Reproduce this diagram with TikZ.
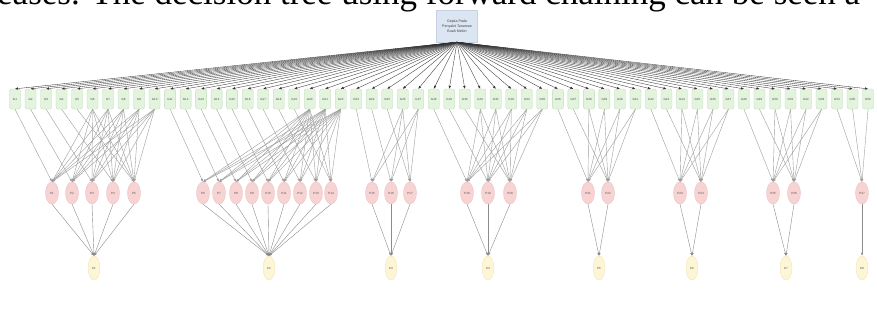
\documentclass[tikz,border=0pt]{standalone}
\usepackage{fontspec}
\usetikzlibrary{arrows.meta,shapes.geometric}
\newfontfamily\captfont{Liberation Serif}
\newfontfamily\tinyfont{Liberation Sans}
\definecolor{rootfill}{HTML}{DCE6F2}
\definecolor{rootline}{HTML}{C4D2E4}
\definecolor{greenfill}{HTML}{E3F3DD}
\definecolor{greenline}{HTML}{BFDDB6}
\definecolor{pinkfill}{HTML}{F8D3D3}
\definecolor{pinkline}{HTML}{EDBABA}
\definecolor{yellowfill}{HTML}{FDF6D6}
\definecolor{yellowline}{HTML}{F1E2AE}
\tikzset{
	rootbox/.style={draw=rootline, fill=rootfill, line width=0.3pt, minimum width=41, minimum height=32, inner sep=1pt, align=center, font=\tinyfont\fontsize{3.6}{5.2}\selectfont, text=black!75},
	gnode/.style={draw=greenline, fill=greenfill, rounded corners=2pt, line width=0.3pt, minimum width=11, minimum height=20, inner sep=0pt, font=\tinyfont\fontsize{3}{3}\selectfont, text=black!70},
	pnode/.style={ellipse, draw=pinkline, fill=pinkfill, line width=0.3pt, minimum width=13, minimum height=22, inner sep=0pt, font=\tinyfont\fontsize{3}{3}\selectfont, text=black!70},
	ynode/.style={ellipse, draw=yellowline, fill=yellowfill, line width=0.3pt, minimum width=12, minimum height=24, inner sep=0pt, font=\tinyfont\fontsize{3}{3}\selectfont, text=black!70},
	rootedge/.style={-{Latex[length=3pt,width=2.4pt]}, line width=0.35pt, color=black!80},
	gpedge/.style={-{Latex[length=3pt,width=2.4pt]}, line width=0.4pt, color=black!38},
	pyedge/.style={-{Latex[length=3pt,width=2.4pt]}, line width=0.4pt, color=black!45}
}

\begin{document}
\begin{tikzpicture}[x=1pt, y=-1pt]
		%%%%% START %%%%%
		
		\useasboundingbox[fill=white] (0, 0) rectangle (877, 324);
		\clip (0, 0) rectangle (877, 324);
		
		\node[anchor=base west, inner sep=0pt, font=\captfont\fontsize{35}{40}\selectfont] (caption) at (-3, 5) {eases. The decision tree using forward chaining can be seen a};
		
		\node[rootbox] (root) at (457, 26) {Gejala Pada\\Penyakit Tanaman\\Buah Melon};
		
		% row of symptoms
		\foreach \i [evaluate=\i as \n using int(\i+1)] in {0,...,55}
			\node[gnode] (g\i) at ({15+15.51*\i}, 99) {G\n};
		
		% diseases
		\foreach \x [count=\k] in {52, 72, 92, 113, 134, 203, 219, 236, 252, 268, 284, 300, 316, 331, 372, 391, 410, 467, 488, 510, 588, 608, 680, 701, 773, 794, 862}
			\node[pnode] (p\k) at (\x, 193) {P\k};
		
		% results
		\foreach \x [count=\k] in {94, 269, 391, 488, 599, 692, 786, 862}
			\node[ynode] (y\k) at (\x, 268) {K\k};
		
		\foreach \i in {0,...,55}
			\draw[rootedge] (root.south) -- (g\i.north);
		
		% first green / green count / first pink / pink count
		\foreach \a/\n/\q/\k [count=\r] in {0/10/1/5, 10/12/6/9, 22/5/15/3, 27/8/18/3, 35/6/21/2, 41/6/23/2, 47/6/25/2, 53/3/27/1} {
			\foreach \j in {1,...,\k} {
				\pgfmathtruncatemacro\gi{\a+\j-1}
				\pgfmathtruncatemacro\pk{\q+\j-1}
				\draw[gpedge] (g\gi.south) -- (p\pk.north);
				\draw[pyedge] (p\pk.south) -- (y\r.north);
			}
			\pgfmathtruncatemacro\sa{\a+\k}
			\pgfmathtruncatemacro\sb{\a+\n-1}
			\foreach \s in {\sa,...,\sb}
				\foreach \j in {1,...,\k} {
					\pgfmathtruncatemacro\pk{\q+\j-1}
					\draw[gpedge] (g\s.south) -- (p\pk.north);
				}
		}
		
		%%%%% END %%%%%
	\end{tikzpicture}
\end{document}
